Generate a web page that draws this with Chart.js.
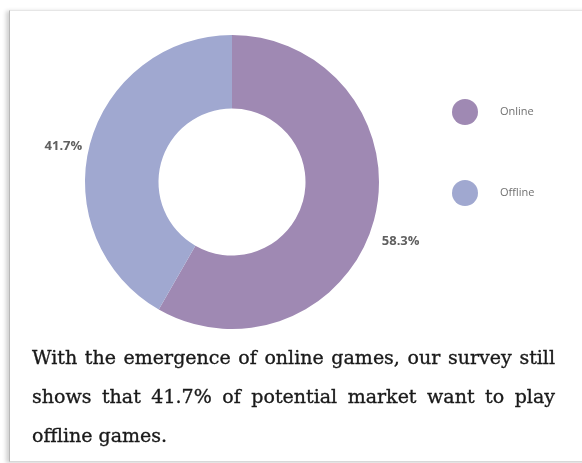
<!DOCTYPE html>
<html>
<head>
<meta charset="utf-8">
<script src="https://cdn.jsdelivr.net/npm/chart.js@4"></script>
<style>
  body { margin: 0; background: #fff; width: 582px; height: 463px; overflow: hidden; position: relative; }
  .card {
    position: absolute; left: 9px; top: 10px; width: 640px; height: 450px;
    border-left: 1px solid #b8b8b8; border-top: 1px solid #e6e6e6; border-bottom: 1px solid #d8d8d8;
    box-shadow: -3px 1px 4px rgba(0,0,0,0.18);
    background: #fff;
  }
  #wrap { position: absolute; left: 10px; top: 10px; width: 572px; height: 330px; }
  .note {
    position: absolute; left: 32px; top: 338px; width: 523px;
    font-family: "DejaVu Serif", serif; font-size: 19px; line-height: 39px; color: #1a1a1a;
    -webkit-text-stroke: 0.35px #1a1a1a;
  }
  .note span { display: block; white-space: nowrap; }
  .note .j { text-align: justify; text-align-last: justify; }
</style>
</head>
<body>
<div class="card"></div>
<div id="wrap"><canvas id="donut"></canvas></div>
<div class="note">
  <span class="j">With the emergence of online games, our survey still</span>
  <span class="j">shows that 41.7% of potential market want to play</span>
  <span>offline games.</span>
</div>
<script>
const categories = ["Online", "Offline"];
const shares = [58.3, 41.7];
const colors = ["#9f89b3", "#a0a8d0"];

// percent labels outside each slice
const sliceLabels = {
  id: "sliceLabels",
  afterDatasetsDraw(chart) {
    const ctx = chart.ctx;
    const meta = chart.getDatasetMeta(0);
    ctx.save();
    ctx.font = "bold 13px 'Open Sans', sans-serif";
    ctx.fillStyle = "#606060";
    ctx.textBaseline = "middle";
    meta.data.forEach((arc, i) => {
      const mid = (arc.startAngle + arc.endAngle) / 2;
      const r = arc.outerRadius + 8;
      const x = arc.x + Math.cos(mid) * r;
      const y = arc.y + Math.sin(mid) * r + 12 + 8 * Math.cos(mid);
      ctx.textAlign = Math.cos(mid) < 0 ? "right" : "left";
      ctx.fillText(shares[i].toFixed(1) + "%", x, y);
    });
    ctx.restore();
  }
};

// legend with big dots on the right
const dotLegend = {
  id: "dotLegend",
  afterDraw(chart) {
    const ctx = chart.ctx;
    ctx.save();
    ctx.font = "11px 'Open Sans', sans-serif";
    ctx.textBaseline = "middle";
    ctx.textAlign = "left";
    chart.data.labels.forEach((lab, i) => {
      const cx = 455, cy = 102 + i * 81;
      ctx.fillStyle = chart.data.datasets[0].backgroundColor[i];
      ctx.beginPath();
      ctx.arc(cx, cy, 13, 0, Math.PI * 2);
      ctx.fill();
      ctx.fillStyle = "#707070";
      ctx.fillText(lab, cx + 35, cy);
    });
    ctx.restore();
  }
};

new Chart(document.getElementById("donut"), {
  type: "doughnut",
  data: {
    labels: categories,
    datasets: [{
      data: shares,
      backgroundColor: colors,
      borderWidth: 0
    }]
  },
  options: {
    responsive: true,
    maintainAspectRatio: false,
    animation: false,
    cutout: "50%",
    layout: { padding: { left: 75, top: 25, right: 203, bottom: 11 } },
    plugins: {
      legend: { display: false },
      tooltip: { enabled: false }
    }
  },
  plugins: [sliceLabels, dotLegend]
});
</script>
</body>
</html>
